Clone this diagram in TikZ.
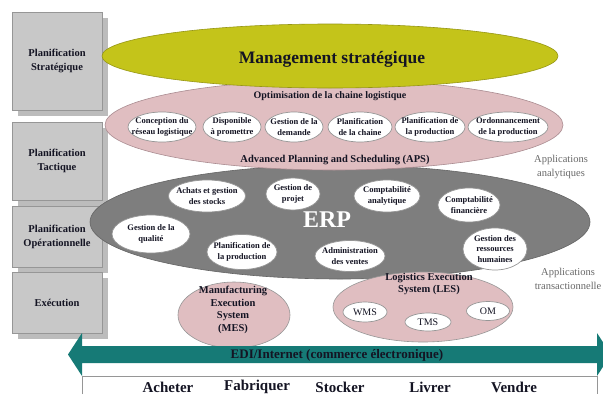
\documentclass[tikz,border=0pt]{standalone}
\usepackage{fontspec}
\setmainfont{Liberation Serif}
\usetikzlibrary{shapes.geometric,shadows}
\definecolor{boxfill}{RGB}{200,200,200}
\definecolor{boxline}{RGB}{150,150,150}
\definecolor{shadowC}{RGB}{188,188,188}
\definecolor{txtC}{RGB}{20,20,35}
\definecolor{oliveC}{RGB}{196,196,26}
\definecolor{oliveL}{RGB}{150,150,20}
\definecolor{pinkC}{RGB}{224,190,193}
\definecolor{pinkL}{RGB}{170,140,145}
\definecolor{erpC}{RGB}{126,126,126}
\definecolor{erpL}{RGB}{100,100,100}
\definecolor{wline}{RGB}{150,150,150}
\definecolor{tealC}{RGB}{22,122,118}
\definecolor{appC}{RGB}{105,105,105}
\tikzset{
  lvlbox/.style={draw=boxline, fill=boxfill, minimum width=90pt, inner sep=0pt,
    drop shadow={shadow xshift=6pt, shadow yshift=-6pt, fill=shadowC, opacity=1}},
  lvltxt/.style={font=\fontsize{10.5}{14}\selectfont\bfseries, align=center, text=txtC, inner sep=0pt},
  bigell/.style={ellipse, inner sep=0pt, line width=0.6pt},
  wEll/.style={ellipse, draw=wline, fill=white, inner sep=0pt, line width=0.7pt},
  itxt/.style={font=\fontsize{8.5}{10.5}\selectfont\bfseries, align=center, text=txtC, inner sep=0pt},
  mtxt/.style={font=\fontsize{10.5}{12.5}\selectfont\bfseries, align=center, text=txtC, inner sep=0pt},
  apptxt/.style={font=\fontsize{10.5}{14}\selectfont, align=center, text=appC, inner sep=0pt},
  stage/.style={font=\fontsize{15}{18}\selectfont\bfseries, text=txtC, inner sep=0pt},
}
\begin{document}
\begin{tikzpicture}[x=1pt,y=-1pt]
\useasboundingbox (0,0) rectangle (603,394);
\clip (0,0) rectangle (603,394);
\fill[white] (0,0) rectangle (603,394);

% left level boxes
\node[lvlbox, minimum height=98pt] (b1) at (57,61) {};
\node[lvltxt] (b1t) at (b1) {Planification\\Stratégique};
\node[lvlbox, minimum height=78pt] (b2) at (57,161) {};
\node[lvltxt] (b2t) at (b2) {Planification\\Tactique};
\node[lvlbox, minimum height=61pt] (b3) at (57,236.5) {};
\node[lvltxt] (b3t) at (b3) {Planification\\Opérationnelle};
\node[lvlbox, minimum height=61pt] (b4) at (57,302.5) {};
\node[lvltxt] (b4t) at (b4) {Exécution};

% big ellipses
\node[bigell, draw=erpL, fill=erpC, minimum width=500pt, minimum height=114pt] (erp) at (340,222) {};
\node[bigell, draw=pinkL, fill=pinkC, minimum width=458pt, minimum height=90pt] (aps) at (334,125) {};
\node[bigell, draw=oliveL, fill=oliveC, minimum width=456pt, minimum height=64pt] (mgmt) at (330,56) {};
\node[font=\fontsize{17.5}{20}\selectfont\bfseries, text=txtC, inner sep=0pt] (mgmtt) at (332,59) {Management stratégique};

% APS content
\node[font=\fontsize{10}{12}\selectfont\bfseries, text=txtC, inner sep=0pt] (opt) at (330,96) {Optimisation de la chaine logistique};
\node[font=\fontsize{10.5}{12}\selectfont\bfseries, text=txtC, inner sep=0pt] (apst) at (335,160) {Advanced Planning and Scheduling (APS)};
\node[wEll, minimum width=68pt, minimum height=30pt] (a1) at (162,127) {};
\node[itxt] (a1t) at (a1) {Conception du\\réseau logistique};
\node[wEll, minimum width=58pt, minimum height=30pt] (a2) at (232,127) {};
\node[itxt] (a2t) at (a2) {Disponible\\à promettre};
\node[wEll, minimum width=58pt, minimum height=30pt] (a3) at (294,127) {};
\node[itxt] (a3t) at (a3) {Gestion de la\\demande};
\node[wEll, minimum width=64pt, minimum height=30pt] (a4) at (360,127) {};
\node[itxt] (a4t) at (a4) {Planification\\de la chaine};
\node[wEll, minimum width=70pt, minimum height=30pt] (a5) at (430,127) {};
\node[itxt] (a5t) at (a5) {Planification de\\la production};
\node[wEll, minimum width=80pt, minimum height=30pt] (a6) at (508,127) {};
\node[itxt] (a6t) at (a6) {Ordonnancement\\de la production};

% ERP content
\node[font=\fontsize{24}{26}\selectfont\bfseries, text=white, inner sep=0pt] (erpt) at (327,220) {ERP};
\node[wEll, minimum width=77pt, minimum height=32pt] (e1) at (207,196) {};
\node[itxt] (e1t) at (e1) {Achats et gestion\\des stocks};
\node[wEll, minimum width=54pt, minimum height=32pt] (e2) at (293,194) {};
\node[itxt] (e2t) at (e2) {Gestion de\\projet};
\node[wEll, minimum width=78pt, minimum height=38pt] (e3) at (151,234) {};
\node[itxt] (e3t) at (e3) {Gestion de la\\qualité};
\node[wEll, minimum width=70pt, minimum height=35pt] (e4) at (242,252) {};
\node[itxt] (e4t) at (e4) {Planification de\\la production};
\node[wEll, minimum width=70pt, minimum height=31pt] (e5) at (350,256) {};
\node[itxt] (e5t) at (e5) {Administration\\des ventes};
\node[wEll, minimum width=66pt, minimum height=32pt] (e6) at (387,196) {};
\node[itxt] (e6t) at (e6) {Comptabilité\\analytique};
\node[wEll, minimum width=62pt, minimum height=34pt] (e7) at (469,205) {};
\node[itxt] (e7t) at (e7) {Comptabilité\\financière};
\node[wEll, minimum width=64pt, minimum height=42pt] (e8) at (495,249) {};
\node[itxt] (e8t) at (e8) {Gestion des\\ressources\\humaines};

% MES and LES
\node[bigell, draw=wline, fill=pinkC, minimum width=112pt, minimum height=66pt] (mes) at (234,315) {};
\node[mtxt] (mest) at (233,310) {Manufacturing\\Execution\\System\\(MES)};
\node[bigell, draw=wline, fill=pinkC, minimum width=180pt, minimum height=70pt] (les) at (423,307) {};
\node[mtxt] (lest) at (429,284) {Logistics Execution\\System (LES)};
\node[wEll, minimum width=44pt, minimum height=20pt] (wms) at (365,312) {};
\node[mtxt, font=\fontsize{10}{12}\selectfont] (wmst) at (wms) {WMS};
\node[wEll, minimum width=46pt, minimum height=18pt] (tms) at (428,322) {};
\node[mtxt, font=\fontsize{10}{12}\selectfont] (tmst) at (tms) {TMS};
\node[wEll, minimum width=43pt, minimum height=19pt] (om) at (488,311) {};
\node[mtxt, font=\fontsize{10}{12}\selectfont] (omt) at (om) {OM};

% application labels
\node[apptxt] (app1) at (561,167) {Applications\\analytiques};
\node[apptxt] (app2) at (568,279) {Applications\\transactionnelle};

% EDI arrow
\fill[tealC] (68,354.5) -- (82,333) -- (82,346) -- (597,346) -- (597,333) -- (611,354.5)
  -- (597,376) -- (597,363) -- (82,363) -- (82,376) -- cycle;
\node[font=\fontsize{13}{15}\selectfont\bfseries, text=txtC, inner sep=0pt] (edi) at (337,355) {EDI/Internet (commerce électronique)};

% bottom frame
\coordinate (fl) at (82,394);
\coordinate (fr) at (597,394);
\draw[boxline, line width=0.6pt] (fl) -- (82,376) -- (597,376) -- (fr);
\node[stage] (s1) at (168,387) {Acheter};
\node[stage] (s2) at (257,387) {Fabriquer};
\node[stage] (s3) at (340,387) {Stocker};
\node[stage] (s4) at (430,387) {Livrer};
\node[stage] (s5) at (514,387) {Vendre};
\end{tikzpicture}
\end{document}
